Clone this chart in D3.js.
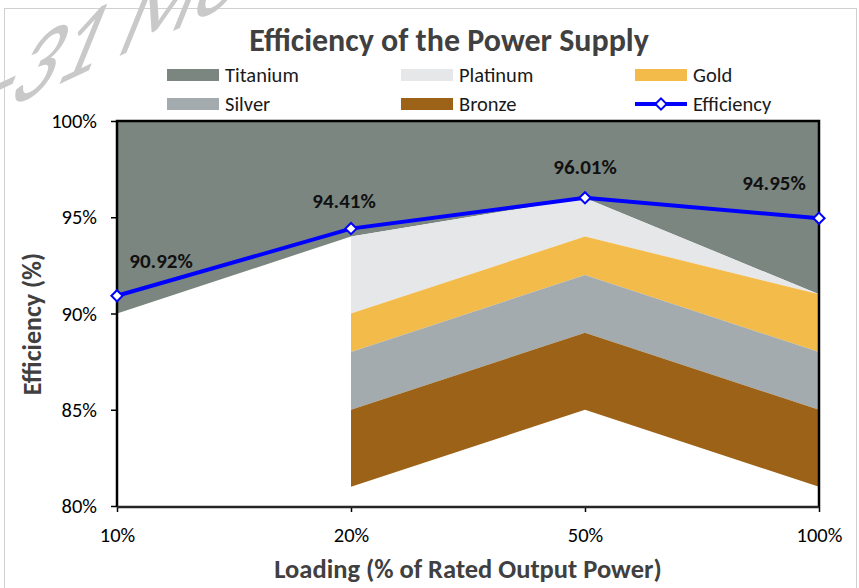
<!DOCTYPE html>
<html>
<head>
<meta charset="utf-8">
<script src="https://cdn.jsdelivr.net/npm/d3@7"></script>
<style>
  body { margin: 0; background: #fff; }
  svg { display: block; }
  text { font-family: Carlito, Calibri, Lato, sans-serif; }
</style>
</head>
<body>
<div id="chart"></div>
<script>
// ====== data ======
// load points on the x axis
let loads = ["10%", "20%", "50%", "100%"];
// lower edge of each 80 Plus band (%) - null where the band is not given
let titanium = [90, 94, 96, 91];
let platinum = [null, 90, 94, 91];
let gold = [null, 88, 92, 88];
let silver = [null, 85, 89, 85];
let bronze = [null, 81, 85, 81];
// measured efficiency of the supply (%)
let efficiency = [90.92, 94.41, 96.01, 94.95];
let yTicks = [80, 85, 90, 95, 100];

// ====== layout ======
let svgWidth = 859;
let svgHeight = 588;
let plot = { left: 117, right: 819, top: 121, bottom: 506 };
// nudges for the data labels so they stay inside the plot
let labelDx = [44, -7, 0, -45];
let labelDy = [-35, -28, -31, -35];

let svg = d3.select("#chart")
  .append("svg")
  .attr("width", svgWidth)
  .attr("height", svgHeight);

// outer chart frame
svg.append("rect")
  .attr("x", 4.5).attr("y", 8.5)
  .attr("width", 852).attr("height", 600)
  .attr("fill", "#fff")
  .attr("stroke", "#d0d0d0");

let xScale = d3.scalePoint().domain(loads).range([plot.left, plot.right]);
let yScale = d3.scaleLinear().domain([80, 100]).range([plot.bottom, plot.top]);

// each band is filled from the tier above it down to its own edge
let top100 = loads.map(() => yScale.domain()[1]);
let bands = [
  { name: "Titanium", color: "#7b8681", low: titanium, high: top100 },
  { name: "Platinum", color: "#e6e7e9", low: platinum, high: titanium },
  { name: "Gold", color: "#f3bb4a", low: gold, high: platinum },
  { name: "Silver", color: "#a4abae", low: silver, high: gold },
  { name: "Bronze", color: "#9c6217", low: bronze, high: silver }
];

let area = d3.area()
  .defined(d => d.low != null)
  .x(d => xScale(d.load))
  .y0(d => yScale(d.low))
  .y1(d => yScale(d.high));

svg.append("g").attr("class", "bands")
  .selectAll("path")
  .data(bands)
  .enter()
  .append("path")
  .attr("d", b => area(loads.map((l, i) => ({ load: l, low: b.low[i], high: b.high[i] }))))
  .attr("fill", b => b.color);

// ====== axes ======
let yAxis = d3.axisLeft(yScale)
  .tickValues(yTicks)
  .tickFormat(d => d + "%")
  .tickSize(6)
  .tickPadding(14);
let xAxis = d3.axisBottom(xScale).tickSize(6).tickPadding(15);

let yG = svg.append("g")
  .attr("class", "yAxis")
  .attr("transform", "translate(" + plot.left + ",0)")
  .call(yAxis);
let xG = svg.append("g")
  .attr("class", "xAxis")
  .attr("transform", "translate(0," + plot.bottom + ")")
  .call(xAxis);

yG.select(".domain").remove();
xG.select(".domain").remove();
svg.selectAll(".yAxis .tick line, .xAxis .tick line").attr("stroke", "#000").attr("stroke-width", 1.5);
svg.selectAll(".yAxis text, .xAxis text")
  .attr("font-size", 20.5)
  .attr("fill", "#000")
  .style("font-family", "Carlito, Calibri, Lato, sans-serif");

// plot frame: black on three sides, axis line at the bottom
svg.append("path")
  .attr("d", "M" + plot.left + "," + plot.bottom + "V" + plot.top + "H" + plot.right + "V" + plot.bottom)
  .attr("fill", "none")
  .attr("stroke", "#000")
  .attr("stroke-width", 2.5);
svg.append("line")
  .attr("x1", plot.left).attr("x2", plot.right)
  .attr("y1", plot.bottom + 1).attr("y2", plot.bottom + 1)
  .attr("stroke", "#262626")
  .attr("stroke-width", 2.5);

// ====== efficiency line ======
let line = d3.line()
  .x((d, i) => xScale(loads[i]))
  .y(d => yScale(d));

svg.append("path")
  .datum(efficiency)
  .attr("d", line)
  .attr("fill", "none")
  .attr("stroke", "#0000ff")
  .attr("stroke-width", 4);

let diamond = d3.symbol().type(d3.symbolDiamond2).size(80);

svg.selectAll(".marker")
  .data(efficiency)
  .enter()
  .append("path")
  .attr("class", "marker")
  .attr("d", diamond)
  .attr("transform", (d, i) => "translate(" + xScale(loads[i]) + "," + yScale(d) + ")")
  .attr("fill", "#fff")
  .attr("stroke", "#0000ff")
  .attr("stroke-width", 2);

svg.selectAll(".dataLabel")
  .data(efficiency)
  .enter()
  .append("text")
  .attr("class", "dataLabel")
  .attr("x", (d, i) => xScale(loads[i]) + labelDx[i])
  .attr("y", (d, i) => yScale(d) + labelDy[i])
  .attr("text-anchor", "middle")
  .attr("dominant-baseline", "central")
  .attr("font-size", 21)
  .attr("font-weight", "bold")
  .attr("fill", "#111")
  .text(d => d.toFixed(2) + "%");

// ====== titles ======
svg.append("text")
  .attr("x", 449).attr("y", 51)
  .attr("text-anchor", "middle")
  .attr("font-size", 32)
  .attr("font-weight", "bold")
  .attr("fill", "#404040")
  .text("Efficiency of the Power Supply");

svg.append("text")
  .attr("x", (plot.left + plot.right) / 2).attr("y", 578)
  .attr("text-anchor", "middle")
  .attr("font-size", 26.5)
  .attr("font-weight", "bold")
  .attr("fill", "#404040")
  .text("Loading (% of Rated Output Power)");

svg.append("text")
  .attr("transform", "translate(41,324)rotate(-90)")
  .attr("text-anchor", "middle")
  .attr("font-size", 26)
  .attr("font-weight", "bold")
  .attr("fill", "#404040")
  .text("Efficiency (%)");

// ====== legend ======
let legendCols = [167, 401, 635];
let legendRows = [75, 104];
let legendItems = bands.map(b => ({ name: b.name, color: b.color, kind: "area" }));
legendItems.push({ name: "Efficiency", color: "#0000ff", kind: "line" });
// Excel orders the legend row by row
let order = ["Titanium", "Platinum", "Gold", "Silver", "Bronze", "Efficiency"];

let legend = svg.append("g").attr("class", "legend")
  .selectAll("g")
  .data(order.map(n => legendItems.find(it => it.name === n)))
  .enter()
  .append("g")
  .attr("transform", (d, i) => "translate(" + legendCols[i % 3] + "," + legendRows[Math.floor(i / 3)] + ")");

legend.filter(d => d.kind === "area")
  .append("rect")
  .attr("x", 0).attr("y", -6)
  .attr("width", 52).attr("height", 12)
  .attr("fill", d => d.color);

let lineKey = legend.filter(d => d.kind === "line");
lineKey.append("line")
  .attr("x1", 0).attr("x2", 52)
  .attr("stroke", d => d.color)
  .attr("stroke-width", 4);
lineKey.append("path")
  .attr("d", diamond)
  .attr("transform", "translate(26,0)")
  .attr("fill", "#fff")
  .attr("stroke", d => d.color)
  .attr("stroke-width", 2);

legend.append("text")
  .attr("x", 58)
  .attr("dominant-baseline", "central")
  .attr("font-size", 20.5)
  .attr("fill", "#1a1a1a")
  .text(d => d.name);

// ====== faint stamp in the corner ======
// baseline climbs ~25deg while the letters lean right ~22deg
svg.append("text")
  .attr("transform", "translate(-22,122) matrix(0.725,-0.338,-0.375,0.927,0,0)")
  .attr("font-size", 120)
  .attr("fill", "#c9c9c9")
  .text("-31 Mo");
</script>
</body>
</html>
